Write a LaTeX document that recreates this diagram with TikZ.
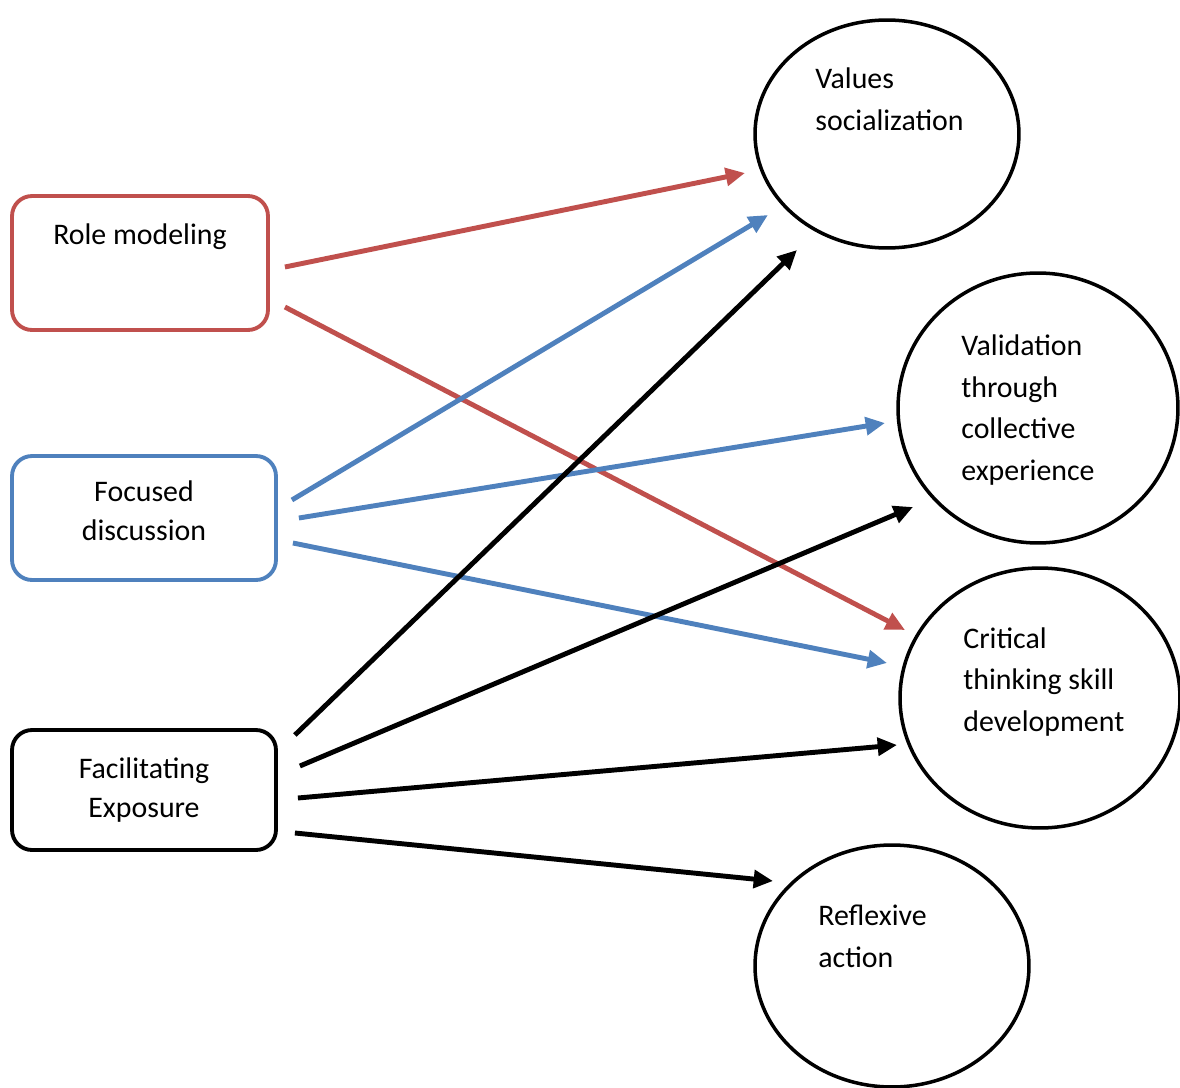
\documentclass[tikz,border=0pt]{standalone}
\usepackage{fontspec}
\setmainfont{Carlito}
\usetikzlibrary{shapes.geometric,arrows.meta,calc}
\definecolor{rolered}{HTML}{C0504D}
\definecolor{talkblue}{HTML}{4F81BD}

\begin{document}
\begin{tikzpicture}[x=0.02cm, y=-0.02cm,
  font=\fontsize{17}{23.8}\selectfont,
  box/.style={draw, rounded corners=0.4cm, line width=2.2pt, align=center, inner sep=0pt},
  goal/.style={draw, ellipse, line width=2pt, inner sep=0pt},
  txt/.style={align=left, inner sep=0pt, anchor=west},
  link/.style={line width=2.8pt, -{Triangle[length=11pt, width=10pt]}}]
\useasboundingbox (0,0) rectangle (1180,1088);
% Strategies (left)
\node[box, rolered, minimum width=5.12cm, minimum height=2.68cm] (role) at (140,263) {};
\node[inner sep=0pt] (roletxt) at (140,237) {Role modeling};
\node[box, talkblue, minimum width=5.28cm, minimum height=2.48cm] (talk) at (144,518) {};
\node[inner sep=0pt, align=center, font=\fontsize{17}{22}\selectfont] (talktxt) at (144,511) {Focused\\discussion};
\node[box, minimum width=5.28cm, minimum height=2.4cm, font=\fontsize{17}{22.5}\selectfont] (expo) at (144,790) {Facilitating\\Exposure};
% Outcomes (right)
\node[goal, minimum width=5.28cm, minimum height=4.56cm] (values) at (887,134) {};
\node[txt] (valuestxt) at (815,99) {Values\\socialization};
\node[goal, minimum width=5.6cm, minimum height=5.4cm] (valid) at (1038,408) {};
\node[txt] (validtxt) at (961,410) {Validation\\through\\collective\\experience};
\node[goal, minimum width=5.6cm, minimum height=5.2cm] (crit) at (1040,698) {};
\node[txt] (crittxt) at (963,682) {Critical\\thinking skill\\development};
\node[goal, minimum width=5.48cm, minimum height=4.84cm] (reflex) at (892,966) {};
\node[txt] (reflextxt) at (818,936) {Reflexive\\action};
% Links
\draw[link, rolered] ($(role.east)+(15,4)$) -- ($(values.center)+(-142,39)$);
\draw[link, rolered] ($(role.east)+(15,44)$) -- ($(crit.center)+(-135,-68)$);
\draw[link, talkblue] ($(talk.east)+(14,-18)$) -- ($(values.center)+(-119,81)$);
\draw[link, talkblue] ($(talk.east)+(21,0)$) -- ($(valid.center)+(-153,15)$);
\draw[link, talkblue] ($(talk.east)+(15,25)$) -- ($(crit.center)+(-153,-35)$);
\draw[link] ($(expo.east)+(17,-55)$) -- ($(values.center)+(-90,116)$);
\draw[link] ($(expo.east)+(22,-24)$) -- ($(valid.center)+(-125,99)$);
\draw[link] ($(expo.east)+(20,8)$) -- ($(crit.center)+(-143,47)$);
\draw[link] ($(expo.east)+(17,43)$) -- ($(reflex.center)+(-119,-85)$);
\end{tikzpicture}
\end{document}
